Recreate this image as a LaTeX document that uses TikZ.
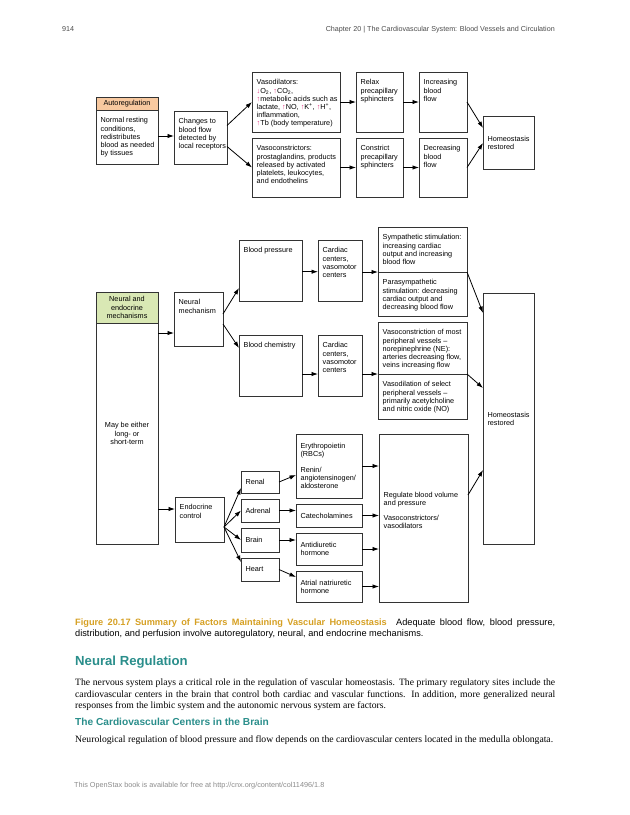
\documentclass[tikz,border=0pt]{standalone}
\usepackage{fontspec}
\setmainfont{Liberation Serif}
\setsansfont{Liberation Sans}
\usetikzlibrary{arrows.meta,calc}
\definecolor{hdrorange}{HTML}{F8C9A0}
\definecolor{hdrgreen}{HTML}{D9E8B4}
\definecolor{mag}{HTML}{E2327E}
\definecolor{capgold}{HTML}{D6A023}
\definecolor{headteal}{HTML}{2A8E8B}
\definecolor{edgecol}{HTML}{333333}
\newcommand\dfont{\sffamily\fontsize{7.3}{8.2}\selectfont}
\newcommand\mg[1]{\textcolor{mag}{#1}}
\newcommand\tbox[6]{\node[bx, minimum width=#4bp, minimum height=#5bp, label={[lbl]north west:{#6}}] (#1) at (#2,#3) {};}
\newcommand\cbox[6]{\pgfmathsetmacro\twid{#4-9}\node[bx, minimum height=#5bp, text width=\twid bp, inner xsep=4.5bp, align=left, font=\dfont] (#1) at (#2,#3) {#6};}
\newcommand\headbox[7]{\node[bx, fill=#6, minimum width=#4bp, minimum height=#5bp, align=center, font=\dfont] (#1) at (#2,#3) {#7};}
\begin{document}
\begin{tikzpicture}[x=1bp, y=-1bp,
  bx/.style={draw=edgecol, line width=0.9bp, anchor=north west, inner sep=0pt, outer sep=0pt, fill=white},
  lbl/.style={anchor=north west, inner sep=0pt, xshift=4.5bp, yshift=-7.4bp, align=left, font=\dfont},
  arr/.style={draw=black, line width=0.8bp, -{Latex[length=6.5bp,width=4.4bp]}},
  pagetxt/.style={anchor=base west, inner sep=0pt}]
\useasboundingbox (0,0) rectangle (630,815);
\fill[white] (0,0) rectangle (630,815);

% ---------- page header ----------
\node[pagetxt, font=\sffamily\fontsize{7.2}{9}\selectfont, text=black!70] (pgnum) at (62,31.5) {914};
\node[pagetxt, anchor=base east, font=\sffamily\fontsize{7.2}{9}\selectfont, text=black!70] (chap) at (555,31.5) {Chapter 20 | The Cardiovascular System: Blood Vessels and Circulation};

% ---------- autoregulation ----------
\headbox{autoH}{96}{97}{62}{13}{hdrorange}{Autoregulation}
\tbox{autoB}{96}{110}{62}{54}{Normal resting\\conditions,\\redistributes\\blood as needed\\by tissues}
\tbox{changes}{174}{111}{53}{53}{Changes to\\blood flow\\detected by\\local receptors}
\tbox{vdil}{252}{72}{88}{60}{Vasodilators:\\\mg{↓}O\textsubscript{2}, \mg{↑}CO\textsubscript{2},\\\mg{↑}metabolic acids such as\\lactate, \mg{↑}NO, \mg{↑}K\textsuperscript{+}, \mg{↑}H\textsuperscript{+},\\inflammation,\\\mg{↑}Tb (body temperature)}
\tbox{vcon}{252}{138}{88}{59}{Vasoconstrictors:\\prostaglandins, products\\released by activated\\platelets, leukocytes,\\and endothelins}
\tbox{relax}{356}{72}{47}{60}{Relax\\precapillary\\sphincters}
\tbox{constr}{356}{138}{47}{59}{Constrict\\precapillary\\sphincters}
\tbox{incr}{419}{72}{48}{60}{Increasing\\blood\\flow}
\tbox{decr}{419}{138}{48}{59}{Decreasing\\blood\\flow}
\cbox{homeoA}{483}{116}{51}{53}{Homeostasis\\restored}

\coordinate (c1) at ([yshift=1bp]autoB.east);
\draw[arr] (c1) -- (c1 -| changes.west);
\draw[arr] ([yshift=12bp]changes.east) -- (vdil.west);
\draw[arr] ([yshift=-9bp]changes.east) -- (vcon.west);
\draw[arr] (vdil) -- (relax);
\draw[arr] (vcon) -- (constr);
\draw[arr] (relax) -- (incr);
\draw[arr] (constr) -- (decr);
\draw[arr] (incr.east) -- ([yshift=14.5bp]homeoA.west);
\draw[arr] (decr.east) -- ([yshift=-0.5bp]homeoA.west);

% ---------- neural ----------
\headbox{neH}{96}{292}{62}{31}{hdrgreen}{Neural and\\endocrine\\mechanisms}
\node[bx, minimum width=62bp, minimum height=221bp, align=center, font=\dfont] (neB) at (96,323) {May be either\\long- or\\short-term};
\tbox{neural}{174}{292}{49}{54}{Neural\\mechanism}
\tbox{bp}{239}{240}{63}{61}{Blood pressure}
\tbox{bc}{239}{335}{63}{61}{Blood chemistry}
\tbox{cardA}{318}{240}{44}{61}{Cardiac\\centers,\\vasomotor\\centers}
\tbox{cardB}{318}{335}{44}{61}{Cardiac\\centers,\\vasomotor\\centers}
\tbox{symp}{378}{227}{89}{45}{Sympathetic stimulation:\\increasing cardiac\\output and increasing\\blood flow}
\tbox{para}{378}{272}{89}{44}{Parasympathetic\\stimulation: decreasing\\cardiac output and\\decreasing blood flow}
\tbox{vcm}{378}{322}{89}{52}{Vasoconstriction of most\\peripheral vessels –\\norepinephrine (NE):\\arteries decreasing flow,\\veins increasing flow}
\tbox{vds}{378}{374}{89}{45}{Vasodilation of select\\peripheral vessels –\\primarily acetylcholine\\and nitric oxide (NO)}
\cbox{homeoB}{483}{293}{51}{251}{Homeostasis\\restored}

\coordinate (c2) at ([yshift=-10bp]neB.north east);
\draw[arr] (c2) -- (c2 -| neural.west);
\draw[arr] ([yshift=5bp]neural.east) -- ([yshift=-17.5bp]bp.west);
\draw[arr] ([yshift=-5bp]neural.east) -- ([yshift=17.5bp]bc.west);
\coordinate (c3) at ([yshift=-1.2bp]bp.east);
\draw[arr] (c3) -- (c3 -| cardA.west);
\coordinate (c4) at ([yshift=-8.5bp]bc.east);
\draw[arr] (c4) -- (c4 -| cardB.west);
\draw[arr] (cardA.east |- symp.south west) -- (symp.south west);
\draw[arr] (cardB.east |- vcm.south west) -- (vcm.south west);
\draw[arr] (symp.south east) -- ([yshift=-20bp]homeoB.north west);
\draw[arr] (vcm.south east) -- ([yshift=-95bp]homeoB.north west);

% ---------- endocrine ----------
\tbox{endo}{175}{497}{49}{45}{Endocrine\\control}
\cbox{renal}{241}{471}{38}{22}{Renal}
\cbox{adrenal}{241}{499}{38}{23}{Adrenal}
\cbox{brain}{241}{528}{38}{24}{Brain}
\cbox{heart}{241}{558}{38}{23}{Heart}
\cbox{ery}{296}{434}{66}{64}{Erythropoietin\\(RBCs)\\[7bp]Renin/\\angiotensinogen/\\aldosterone}
\cbox{cat}{296}{504}{66}{23}{Catecholamines}
\cbox{adh}{296}{533}{66}{32}{Antidiuretic\\hormone}
\cbox{anp}{296}{571}{66}{31}{Atrial natriuretic\\hormone}
\node[bx, minimum width=89bp, minimum height=168bp, label={[lbl, anchor=west, yshift=15bp]west:{Regulate blood volume\\and pressure\\[7bp]Vasoconstrictors/\\vasodilators}}] (reg) at (379,434) {};

\coordinate (c5) at ([yshift=10.5bp]endo.west);
\draw[arr] (c5 -| neB.east) -- (c5);
\coordinate (c6) at ([yshift=-7.5bp]endo.east);
\draw[arr] (c6) -- ([yshift=5bp]renal.south west);
\draw[arr] (c6) -- (adrenal.west);
\draw[arr] (c6) -- (brain.west);
\draw[arr] (c6) -- ([yshift=-4bp]heart.north west);
\draw[arr] (renal.east) -- ([yshift=-9bp]ery.west);
\draw[arr] (adrenal.east) -- (adrenal.east -| cat.west);
\draw[arr] (brain.east) -- (brain.east -| adh.west);
\draw[arr] (heart.east) -- ([yshift=9.5bp]anp.west);
\draw[arr] (ery.east) -- (ery.east -| reg.west);
\draw[arr] (cat.east) -- (cat.east -| reg.west);
\draw[arr] (adh.east) -- (adh.east -| reg.west);
\draw[arr] (anp.east) -- (anp.east -| reg.west);
\draw[arr] ([yshift=23bp]reg.east) -- ([yshift=-51.5bp]homeoB.west);

% ---------- caption and text ----------
\node[pagetxt, font=\sffamily\fontsize{9.24}{11}\selectfont] (capA) at (75,625.3) {\makebox[480bp][s]{\textcolor{capgold}{\bfseries Figure 20.17 Summary of Factors Maintaining Vascular Homeostasis}\hspace{5bp} Adequate blood flow, blood pressure,}};
\node[pagetxt, font=\sffamily\fontsize{9.24}{11}\selectfont] (capB) at (75,636.3) {distribution, and perfusion involve autoregulatory, neural, and endocrine mechanisms.};
\node[pagetxt, font=\sffamily\bfseries\fontsize{13.2}{15}\selectfont, text=headteal] (h1) at (75,665.7) {Neural Regulation};
\node[pagetxt, font=\rmfamily\fontsize{9.7}{11.8}\selectfont] (p1) at (75,685.3) {\makebox[480bp][s]{The nervous system plays a critical role in the regulation of vascular homeostasis. The primary regulatory sites include the}};
\node[pagetxt, font=\rmfamily\fontsize{9.7}{11.8}\selectfont] (p2) at (75,697.1) {\makebox[480bp][s]{cardiovascular centers in the brain that control both cardiac and vascular functions. In addition, more generalized neural}};
\node[pagetxt, font=\rmfamily\fontsize{9.7}{11.8}\selectfont] (p3) at (75,708.9) {responses from the limbic system and the autonomic nervous system are factors.};
\node[pagetxt, font=\sffamily\bfseries\fontsize{10.2}{12}\selectfont, text=headteal] (h2) at (75,725.3) {The Cardiovascular Centers in the Brain};
\node[pagetxt, font=\rmfamily\fontsize{9.7}{11.8}\selectfont] (p4) at (75,742.3) {Neurological regulation of blood pressure and flow depends on the cardiovascular centers located in the medulla oblongata.};
\node[pagetxt, font=\sffamily\fontsize{7.3}{9}\selectfont, text=black!45] (foot) at (74,787.5) {This OpenStax book is available for free at http://cnx.org/content/col11496/1.8};
\end{tikzpicture}
\end{document}
